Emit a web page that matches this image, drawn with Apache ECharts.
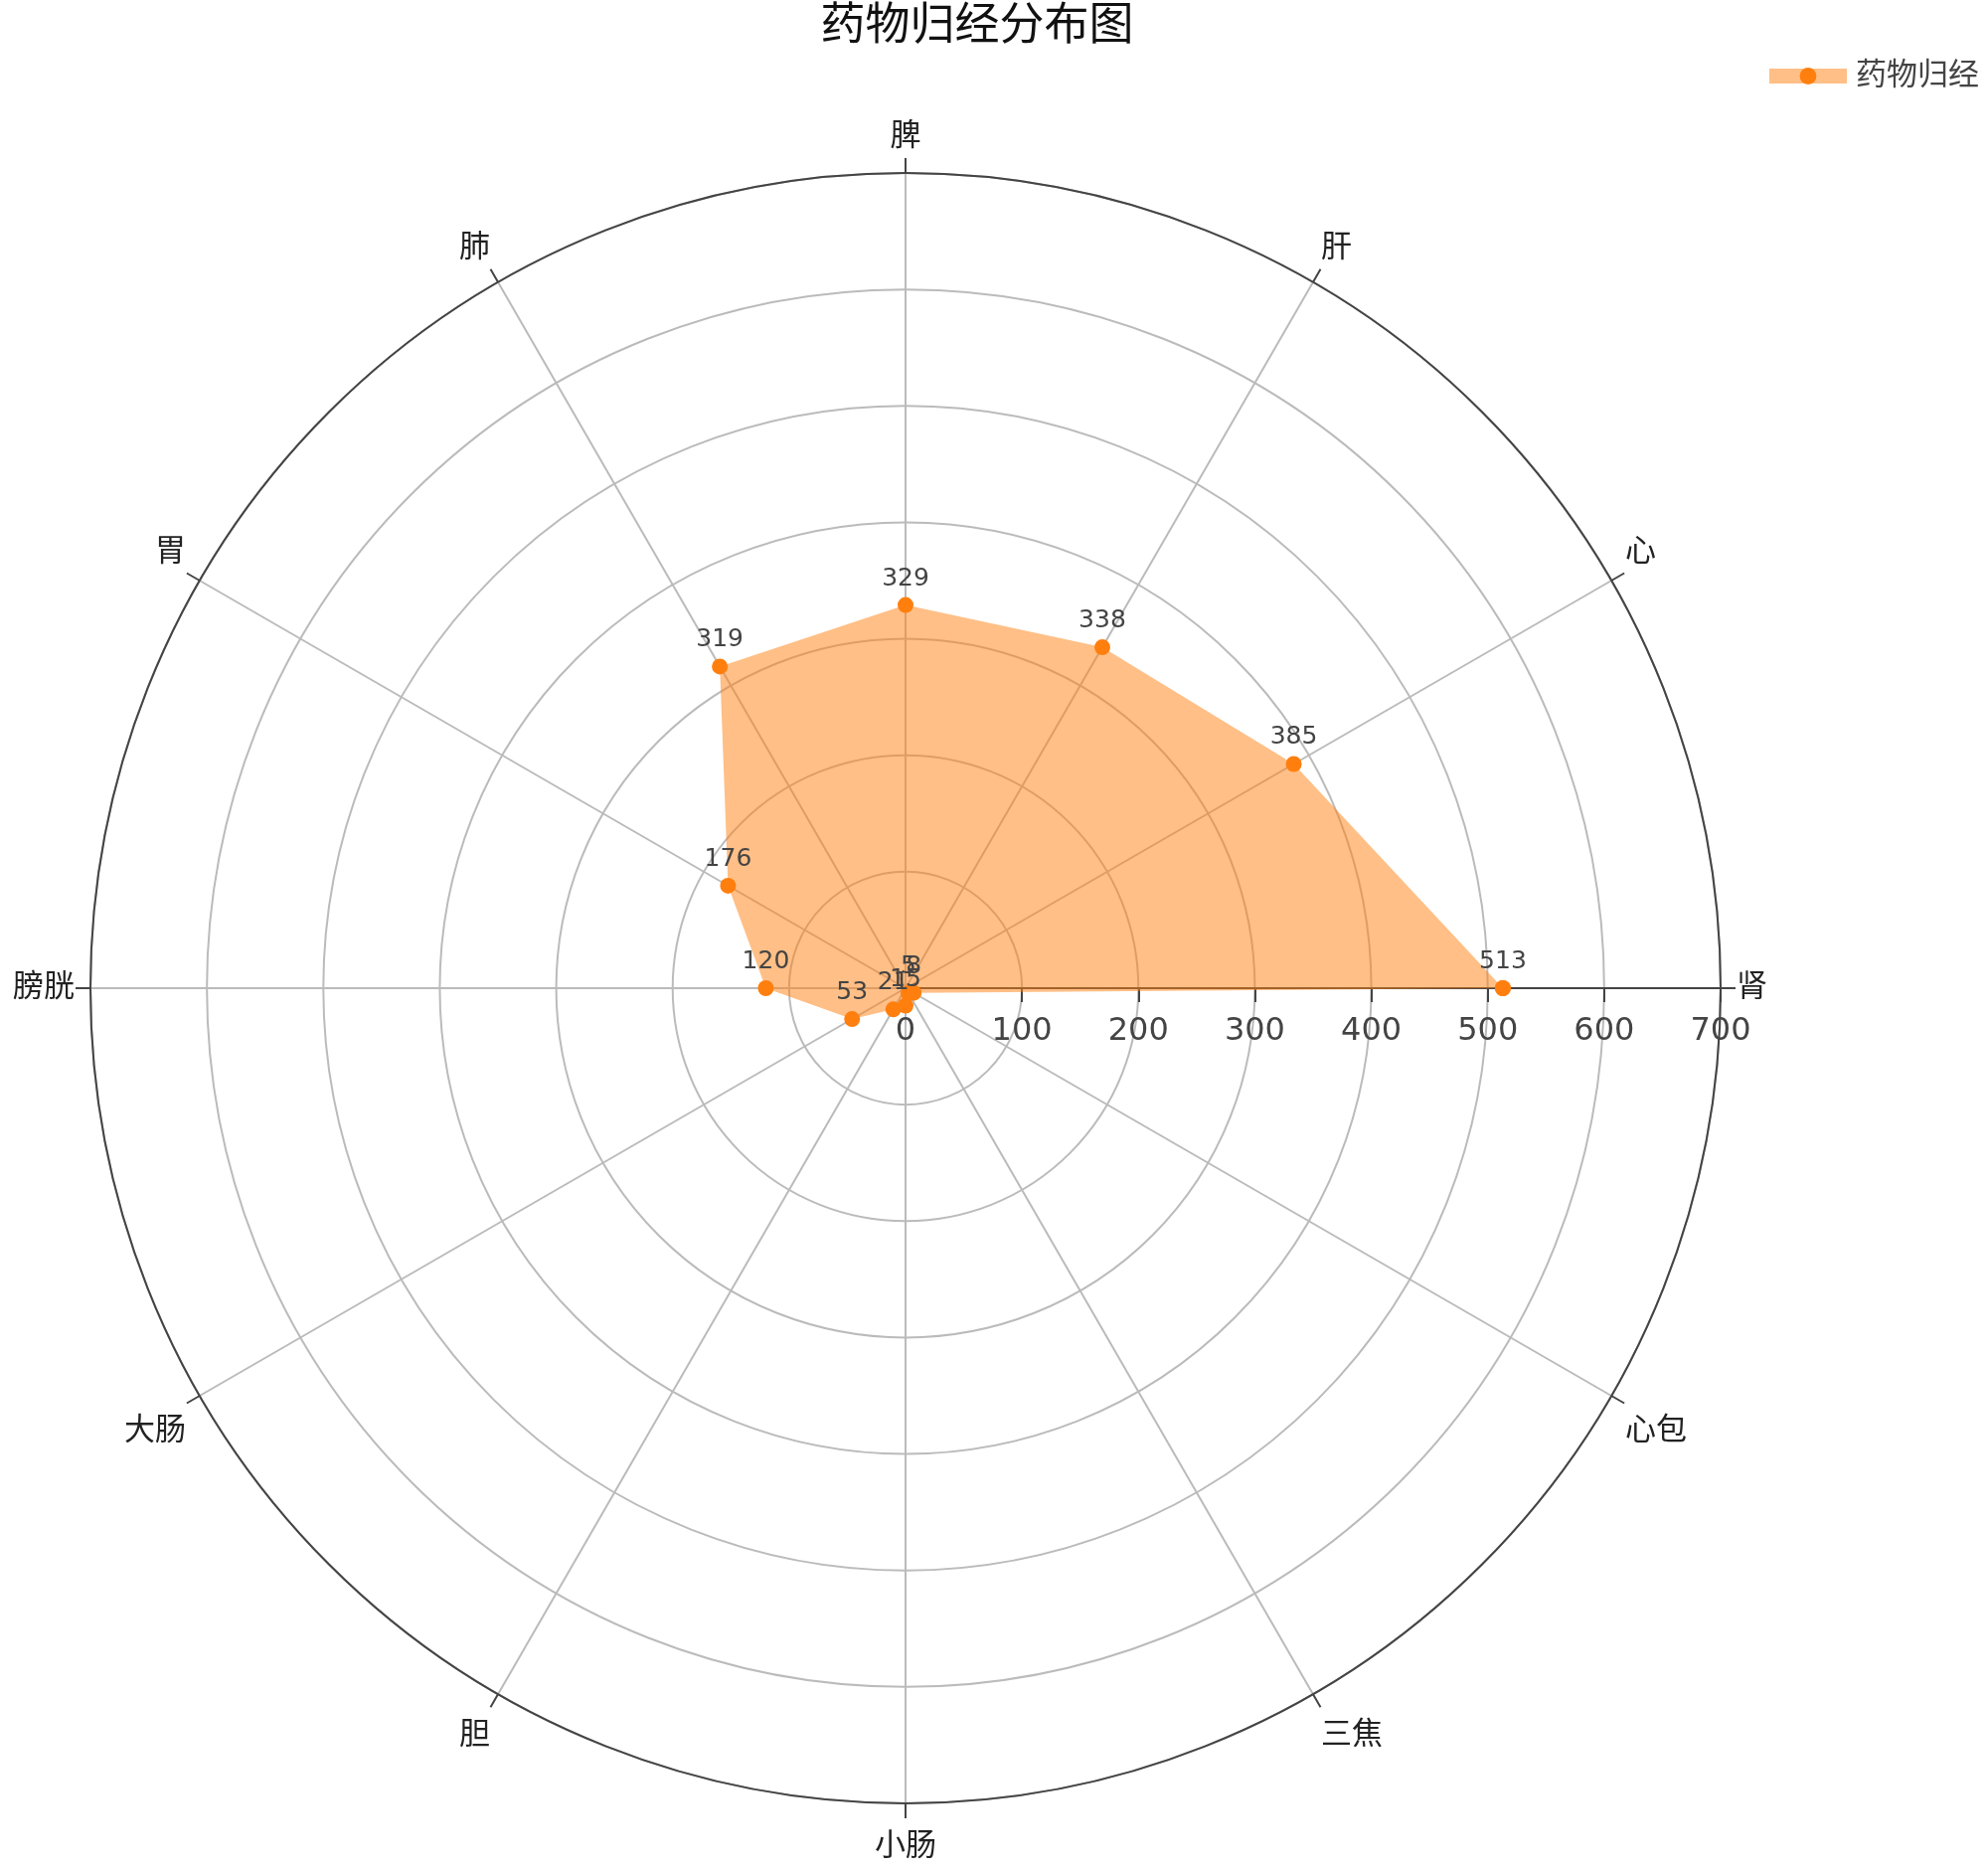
<!DOCTYPE html>
<html>
<head>
<meta charset="utf-8">
<script src="https://cdn.jsdelivr.net/npm/echarts@6/dist/echarts.min.js"></script>
<style>html,body{margin:0;padding:0;background:#fff}#c{width:2000px;height:1879px}</style>
</head>
<body>
<div id="c"></div>
<script>
const categories = ['肾','心','肝','脾','肺','胃','膀胱','大肠','胆','小肠','三焦','心包'];
const values = [513, 385, 338, 329, 319, 176, 120, 53, 21, 15, 5, 8];
const radialTicks = [0, 100, 200, 300, 400, 500, 600, 700];
const seriesName = '药物归经';
const titleText = '药物归经分布图';

const step = 360 / categories.length;
const data = values.map((v, i) => [v, i * step]);
data.push([values[0], 360]);

const FONT = 'Verdana, "DejaVu Sans", "Noto Sans CJK SC", sans-serif';
const chart = echarts.init(document.getElementById('c'), null, {renderer: 'canvas'});
chart.setOption({
  backgroundColor: '#fff',
  animation: false,
  textStyle: {fontFamily: FONT},
  title: {
    text: titleText, left: 978, textAlign: 'center', top: 1,
    textStyle: {fontSize: 45, fontWeight: 'normal', color: '#111', fontFamily: FONT}
  },
  legend: {
    right: 4, top: 56, itemWidth: 78, itemHeight: 21, itemGap: 10,
    textStyle: {fontSize: 31, color: '#444', fontFamily: FONT, padding: [0, 0, 0, 4]},
    data: [{
      name: seriesName,
      itemStyle: {color: '#ff7f0e'},
      lineStyle: {width: 15, color: 'rgba(255,127,14,0.5)', opacity: 1}
    }]
  },
  polar: {center: [911, 994], radius: 820},
  angleAxis: {
    type: 'value', min: 0, max: 360, interval: step,
    startAngle: 0, clockwise: false,
    axisLine: {show: true, lineStyle: {color: '#444', width: 2}},
    axisTick: {show: true, length: 15, lineStyle: {color: '#444', width: 2}},
    axisLabel: {
      margin: 16, fontSize: 31, lineHeight: 40, padding: [8, 0, 0, 0], color: '#222', fontFamily: FONT,
      formatter: v => { const k = Math.round(v / step); return k < categories.length ? categories[k] : ''; }
    },
    splitLine: {show: true, lineStyle: {color: '#bbb', width: 2}}
  },
  radiusAxis: {
    type: 'value', min: radialTicks[0], max: radialTicks[radialTicks.length - 1], interval: 100,
    axisLine: {show: true, lineStyle: {color: '#444', width: 2}},
    axisTick: {show: true, length: -14, lineStyle: {color: '#444', width: 2}},
    axisLabel: {fontSize: 32, color: '#444', margin: -28, verticalAlign: 'top', fontFamily: FONT},
    splitLine: {show: true, lineStyle: {color: '#bbb', width: 2}}
  },
  series: [{
    name: seriesName,
    type: 'line',
    coordinateSystem: 'polar',
    data: data,
    symbol: 'circle', symbolSize: 16,
    itemStyle: {color: '#ff7f0e'},
    lineStyle: {width: 0, color: 'rgba(255,127,14,0)'},
    areaStyle: {color: 'rgba(255,127,14,0.5)', opacity: 1},
    label: {
      show: true, position: 'top', distance: 6, fontSize: 25, color: '#444', fontFamily: FONT,
      formatter: p => p.dataIndex === values.length ? '' : String(p.value[0])
    }
  }]
});
</script>
</body>
</html>
